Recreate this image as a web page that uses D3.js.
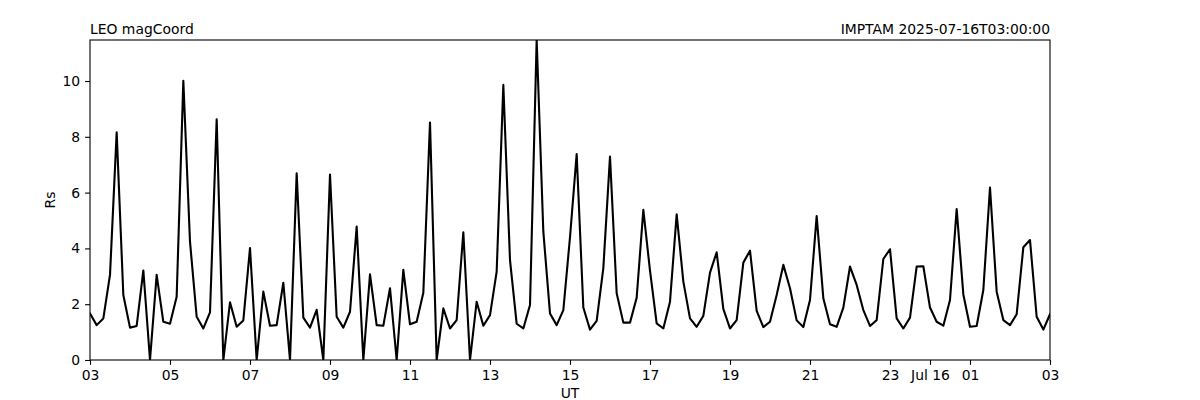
<!DOCTYPE html>
<html>
<head>
<meta charset="utf-8">
<script src="https://cdn.jsdelivr.net/npm/d3@7"></script>
<style>
  html, body { margin: 0; padding: 0; background: #fff; }
  svg { display: block; font-family: "DejaVu Sans", sans-serif; }
</style>
</head>
<body>
<svg id="chart" width="1200" height="400"></svg>
<script>
// ---- data ----
const startTime = "2025-07-15T03:00:00Z";
const stepMinutes = 10;
const rsValues = [
  1.67, 1.25, 1.49, 3.05, 8.16, 2.33, 1.16, 1.22, 3.21, 0.00, 3.05, 1.37,
  1.30, 2.27, 10.01, 4.24, 1.55, 1.13, 1.71, 8.63, 0.00, 2.07, 1.19, 1.42,
  4.01, 0.00, 2.45, 1.23, 1.25, 2.77, 0.00, 6.69, 1.52, 1.16, 1.80, 0.00,
  6.65, 1.55, 1.16, 1.73, 4.78, 0.00, 3.07, 1.25, 1.23, 2.57, 0.00, 3.23,
  1.28, 1.37, 2.41, 8.51, 0.00, 1.85, 1.13, 1.43, 4.58, 0.00, 2.09, 1.23,
  1.61, 3.17, 9.86, 3.58, 1.30, 1.13, 1.97, 11.47, 4.60, 1.67, 1.25, 1.79,
  4.40, 7.38, 1.88, 1.09, 1.40, 3.29, 7.29, 2.39, 1.34, 1.34, 2.23, 5.38,
  3.20, 1.31, 1.13, 2.09, 5.22, 2.81, 1.49, 1.19, 1.58, 3.13, 3.86, 1.83,
  1.13, 1.43, 3.49, 3.92, 1.76, 1.18, 1.37, 2.33, 3.41, 2.57, 1.42, 1.18,
  2.15, 5.16, 2.21, 1.28, 1.19, 1.88, 3.35, 2.69, 1.79, 1.22, 1.43, 3.62,
  3.97, 1.49, 1.13, 1.52, 3.35, 3.36, 1.88, 1.37, 1.23, 2.15, 5.41, 2.35,
  1.19, 1.22, 2.51, 6.18, 2.45, 1.43, 1.25, 1.64, 4.04, 4.30, 1.55, 1.09,
  1.64
];
const tickTimes = [
  "2025-07-15T03:00:00Z", "2025-07-15T05:00:00Z", "2025-07-15T07:00:00Z",
  "2025-07-15T09:00:00Z", "2025-07-15T11:00:00Z", "2025-07-15T13:00:00Z",
  "2025-07-15T15:00:00Z", "2025-07-15T17:00:00Z", "2025-07-15T19:00:00Z",
  "2025-07-15T21:00:00Z", "2025-07-15T23:00:00Z", "2025-07-16T00:00:00Z",
  "2025-07-16T01:00:00Z", "2025-07-16T03:00:00Z"
];
const tickLabels = ["03","05","07","09","11","13","15","17","19","21","23","Jul 16","01","03"];
const yTicks = [0, 2, 4, 6, 8, 10];
const titleLeft = "LEO magCoord";
const titleRight = "IMPTAM 2025-07-16T03:00:00";
const xLabel = "UT";
const yLabel = "Rs";

// ---- layout ----
const margin = { left: 90, right: 150, top: 40, bottom: 40 };
const W = 1200, H = 400;
const pw = W - margin.left - margin.right;
const ph = H - margin.top - margin.bottom;

const t0 = new Date(startTime);
const series = rsValues.map((v, i) => ({ t: new Date(t0.getTime() + i * stepMinutes * 60000), v }));

const x = d3.scaleUtc()
  .domain([new Date(tickTimes[0]), new Date(tickTimes[tickTimes.length - 1])])
  .range([0, pw]);
const y = d3.scaleLinear()
  .domain([0, d3.max(rsValues)])
  .range([ph, 0]);

const svg = d3.select("#chart");
const g = svg.append("g").attr("transform", `translate(${margin.left},${margin.top})`);

const fontSize = "13.9px";

// clip
svg.append("defs").append("clipPath").attr("id", "clip")
  .append("rect").attr("x", 0).attr("y", 0).attr("width", pw).attr("height", ph);

// line
const line = d3.line().x(d => x(d.t)).y(d => y(d.v));
g.append("path")
  .datum(series)
  .attr("clip-path", "url(#clip)")
  .attr("fill", "none")
  .attr("stroke", "#000")
  .attr("stroke-width", 2.1)
  .attr("stroke-linejoin", "round")
  .attr("stroke-linecap", "square")
  .attr("d", line);

// axes
const tickDates = tickTimes.map(s => new Date(s));
const xAxis = d3.axisBottom(x)
  .tickValues(tickDates)
  .tickFormat((d, i) => tickLabels[i])
  .tickSize(4.9).tickPadding(4.9);
const gx = g.append("g").attr("transform", `translate(0,${ph})`).call(xAxis);

const yAxis = d3.axisLeft(y)
  .tickValues(yTicks)
  .tickFormat(d3.format("d"))
  .tickSize(4.9).tickPadding(4.9);
const gy = g.append("g").call(yAxis);

[gx, gy].forEach(a => {
  a.select(".domain").remove();
  a.selectAll(".tick line").attr("stroke", "#000").attr("stroke-width", 1.1);
  a.selectAll(".tick text").attr("fill", "#000").style("font-size", fontSize)
    .style("font-family", "DejaVu Sans, sans-serif");
});

// frame
g.append("rect")
  .attr("x", 0).attr("y", 0).attr("width", pw).attr("height", ph)
  .attr("fill", "none").attr("stroke", "#000").attr("stroke-width", 1.1);

// titles
g.append("text").attr("x", 0).attr("y", -6)
  .style("font-size", fontSize).attr("text-anchor", "start").text(titleLeft);
g.append("text").attr("x", pw).attr("y", -6)
  .style("font-size", fontSize).attr("text-anchor", "end").text(titleRight);

// axis labels
g.append("text").attr("x", pw / 2).attr("y", ph + 38)
  .style("font-size", fontSize).attr("text-anchor", "middle").text(xLabel);
g.append("text")
  .attr("transform", `translate(${-35},${ph / 2}) rotate(-90)`)
  .style("font-size", fontSize).attr("text-anchor", "middle").text(yLabel);
</script>
</body>
</html>
